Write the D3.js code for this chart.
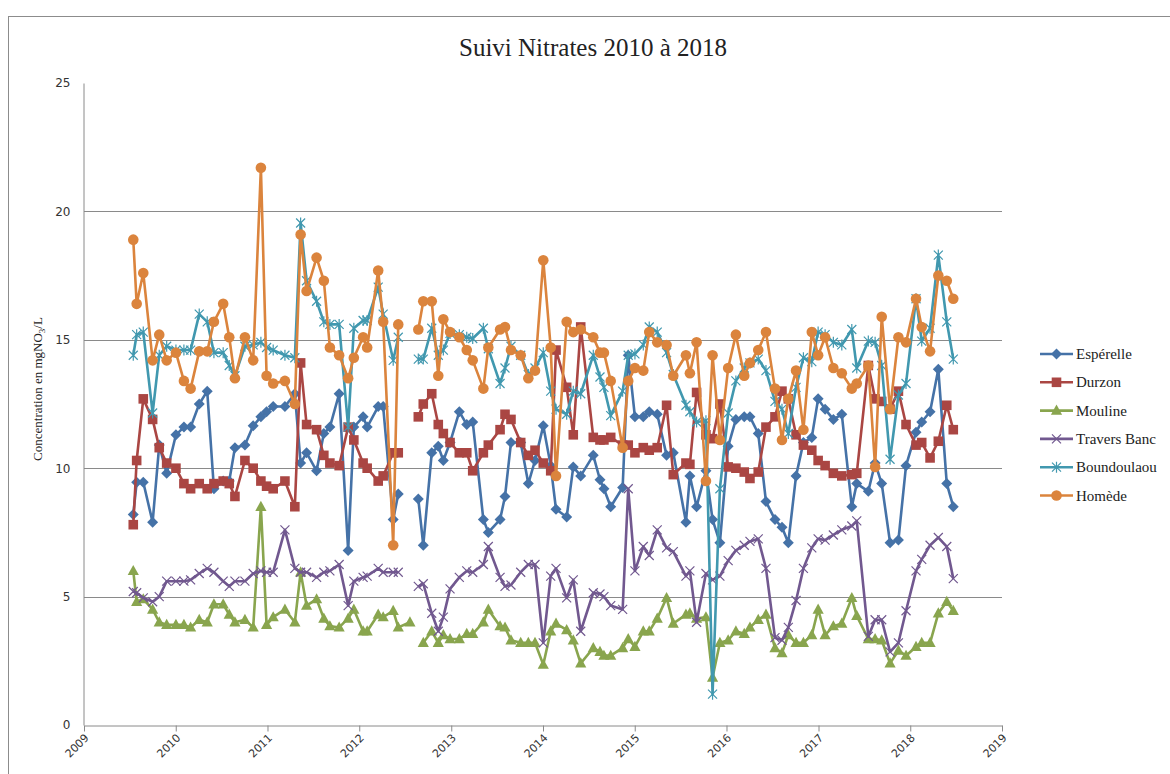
<!DOCTYPE html>
<html>
<head>
<meta charset="utf-8">
<script src="https://cdn.jsdelivr.net/npm/d3@7"></script>
<style>
  body { margin: 0; background: #fff; }
  svg { display: block; }
</style>
</head>
<body>
<svg id="chart" width="1170" height="774"></svg>
<script>
/* Suivi Nitrates 2010 a 2018 - six stations, one sample date list shared by all.
   null = no value (Excel leaves a gap in the line there). */
var sampleYears = [
  2009.537, 2009.574, 2009.646, 2009.748, 2009.820, 2009.901, 2010.002, 2010.089, 2010.162, 2010.256,
  2010.343, 2010.416, 2010.517, 2010.583, 2010.645, 2010.754, 2010.844, 2010.928, 2010.990, 2011.062,
  2011.190, 2011.298, 2011.361, 2011.426, 2011.535, 2011.614, 2011.680, 2011.781, 2011.879, 2011.941,
  2012.042, 2012.086, 2012.206, 2012.260, 2012.369, 2012.424, 2012.551, 2012.642, 2012.696, 2012.788,
  2012.859, 2012.914, 2012.987, 2013.088, 2013.169, 2013.234, 2013.350, 2013.404, 2013.532, 2013.586,
  2013.651, 2013.757, 2013.840, 2013.913, 2014.003, 2014.084, 2014.142, 2014.258, 2014.330, 2014.411,
  2014.548, 2014.621, 2014.664, 2014.738, 2014.868, 2014.929, 2015.002, 2015.093, 2015.158, 2015.245,
  2015.347, 2015.420, 2015.558, 2015.601, 2015.674, 2015.776, 2015.848, 2015.928, 2016.018, 2016.102,
  2016.193, 2016.255, 2016.345, 2016.429, 2016.527, 2016.603, 2016.672, 2016.756, 2016.836, 2016.927,
  2016.996, 2017.072, 2017.162, 2017.254, 2017.363, 2017.417, 2017.543, 2017.617, 2017.689, 2017.780,
  2017.871, 2017.954, 2018.063, 2018.125, 2018.216, 2018.306, 2018.398, 2018.469
];

var esperelle = [
  8.2, 9.45, 9.45, 7.9, 10.9, 9.8, 11.3, 11.6, 11.6, 12.5,
  13.0, 9.2, 9.5, 9.5, 10.8, 10.9, 11.65, 12.0, 12.2, 12.4,
  12.4, 12.9, 10.2, 10.6, 9.9, 11.35, 11.6, 12.9, 6.8, 11.6,
  12.0, 11.6, 12.4, 12.4, 8.0, 9.0, null, 8.8, 7.0, 10.6,
  10.85, 10.3, 11.0, 12.2, 11.7, 11.8, 8.0, 7.5, 8.0, 8.9,
  11.0, 11.0, 9.4, 10.3, 11.65, 10.1, 8.4, 8.1, 10.05, 9.7,
  10.5, 9.55, 9.2, 8.5, 9.25, 14.4, 12.0, 12.0, 12.2, 12.1,
  10.5, 10.6, 7.9, 9.7, 8.5, 9.9, 8.0, 7.1, 10.85, 11.9,
  12.0, 12.0, 11.35, 8.7, 8.0, 7.7, 7.1, 9.7, 11.0, 11.2,
  12.7, 12.3, 11.9, 12.1, 8.5, 9.4, 9.1, 10.2, 9.4, 7.1,
  7.2, 10.1, 11.4, 11.8, 12.2, 13.85, 9.4, 8.5
];

var durzon = [
  7.8, 10.3, 12.7, 11.9, 10.8, 10.2, 10.0, 9.4, 9.2, 9.4,
  9.2, 9.4, 9.5, 9.4, 8.9, 10.3, 10.0, 9.5, 9.3, 9.2,
  9.5, 8.5, 14.1, 11.7, 11.5, 10.5, 10.2, 10.1, 11.6, 11.1,
  10.2, 10.0, 9.5, 9.7, 10.6, 10.6, null, 12.0, 12.5, 12.9,
  11.7, 11.35, 11.0, 10.6, 10.6, 9.9, 10.6, 10.9, 11.5, 12.1,
  11.9, 11.0, 10.5, 10.7, 10.2, 9.9, 14.6, 13.15, 11.3, 15.5,
  11.2, 11.1, 11.1, 11.2, 10.9, 10.9, 10.6, 10.8, 10.7, 10.8,
  12.45, 9.75, 10.2, 10.15, 12.95, 11.3, 11.15, 12.5, 10.05, 10.0,
  9.85, 9.6, 9.85, 11.6, 12.0, 13.0, 12.7, 11.3, 10.9, 10.7,
  10.3, 10.1, 9.8, 9.7, 9.75, 9.8, 14.0, 12.7, 12.6, 12.3,
  13.0, 11.7, 10.9, 11.0, 10.4, 11.05, 12.45, 11.5
];

var mouline = [
  6.0, 4.8, 4.9, 4.5, 4.0, 3.9, 3.9, 3.9, 3.8, 4.1,
  4.0, 4.7, 4.7, 4.3, 4.0, 4.1, 3.8, 8.5, 3.9, 4.2,
  4.5, 4.0, 5.95, 4.65, 4.9, 4.15, 3.85, 3.8, 4.15, 4.5,
  3.65, 3.65, 4.3, 4.2, 4.45, 3.8, 4.0, null, 3.2, 3.65,
  3.2, 3.5, 3.35, 3.35, 3.55, 3.55, 4.0, 4.5, 3.85, 3.8,
  3.3, 3.2, 3.2, 3.2, 2.35, 3.65, 3.95, 3.7, 3.3, 2.4,
  3.0, 2.85, 2.7, 2.7, 3.0, 3.35, 3.05, 3.65, 3.65, 4.15,
  4.95, 3.95, 4.3, 4.35, 4.15, 4.2, 1.85, 3.2, 3.3, 3.65,
  3.55, 3.8, 4.1, 4.3, 3.0, 2.8, 3.5, 3.2, 3.2, 3.5,
  4.5, 3.5, 3.85, 3.95, 4.95, 4.25, 3.35, 3.35, 3.3, 2.4,
  2.9, 2.7, 3.05, 3.2, 3.2, 4.35, 4.8, 4.45
];

var traversBanc = [
  5.2, 5.15, 4.95, 4.8, 5.0, 5.6, 5.6, 5.6, 5.65, 5.9,
  6.1, 5.95, 5.6, 5.4, 5.6, 5.6, 5.9, 6.0, 5.95, 5.95,
  7.6, 6.1, 5.95, 5.95, 5.75, 5.95, 6.0, 6.25, 4.65, 5.6,
  5.75, 5.8, 6.1, 5.95, 5.95, 5.95, null, 5.4, 5.5, 4.35,
  3.65, 4.2, 5.3, 5.75, 6.0, 5.95, 6.25, 6.95, 5.75, 5.4,
  5.45, 5.95, 6.25, 6.25, 3.2, 5.8, 6.1, 4.95, 5.65, 3.65,
  5.15, 5.1, 5.0, 4.65, 4.5, 9.2, 6.0, 6.95, 6.6, 7.6,
  6.9, 6.75, 5.8, 6.0, 4.0, 5.9, 5.65, 5.8, 6.4, 6.8,
  7.0, 7.15, 7.25, 6.1, 3.4, 3.3, 3.8, 4.85, 6.1, 6.9,
  7.25, 7.2, 7.4, 7.6, 7.75, 7.95, 3.45, 4.1, 4.1, 2.85,
  3.2, 4.45, 6.0, 6.45, 7.0, 7.3, 6.95, 5.7
];

var boundoulaou = [
  14.4, 15.2, 15.3, 12.15, 14.4, 14.75, 14.6, 14.6, 14.6, 16.0,
  15.7, 14.5, 14.5, 14.0, 13.6, 14.75, 14.8, 14.9, 14.7, 14.6,
  14.4, 14.3, 19.55, 17.3, 16.5, 15.7, 15.6, 15.6, 11.6, 15.45,
  15.75, 15.75, 17.05, 16.0, 14.2, 15.1, null, 14.25, 14.25, 15.45,
  14.4, 14.6, 15.25, 15.2, 15.1, 15.05, 15.45, 14.65, 13.3, 13.9,
  14.75, 14.4, 13.65, 13.9, 14.5, 13.0, 12.3, 12.1, 13.0, 12.9,
  14.4, 13.55, 13.15, 12.05, 13.0, 14.4, 14.45, 14.8, 15.5, 15.3,
  14.5, 13.65, 12.45, 12.2, 11.8, 11.85, 1.2, 9.2, 12.15, 13.4,
  13.9, 14.1, 14.25, 13.8, 12.6, 12.3, 11.35, 13.15, 14.3, 14.15,
  15.3, 15.2, 14.9, 14.8, 15.4, 13.9, 14.95, 14.9, 14.0, 10.35,
  12.85, 13.3, 16.6, 14.95, 15.45, 18.3, 15.7, 14.25
];

var homede = [
  18.9, 16.4, 17.6, 14.2, 15.2, 14.2, 14.5, 13.4, 13.1, 14.55,
  14.55, 15.7, 16.4, 15.1, 13.5, 15.1, 14.2, 21.7, 13.6, 13.3,
  13.4, 12.5, 19.1, 16.9, 18.2, 17.3, 14.7, 14.4, 13.5, 14.3,
  15.1, 14.7, 17.7, 15.7, 7.0, 15.6, null, 15.4, 16.5, 16.5,
  13.6, 15.8, 15.3, 15.1, 14.6, 14.2, 13.1, 14.7, 15.4, 15.5,
  14.6, 14.4, 13.5, 13.8, 18.1, 14.7, 9.7, 15.7, 15.3, 15.4,
  15.1, 14.5, 14.5, 13.4, 10.8, 13.4, 13.9, 13.8, 15.3, 14.9,
  14.8, 13.6, 14.4, 13.7, 14.9, 9.5, 14.4, 11.1, 13.9, 15.2,
  13.6, 14.1, 14.6, 15.3, 13.1, 11.1, 12.7, 13.8, 11.5, 15.3,
  14.4, 15.1, 13.9, 13.7, 13.1, 13.3, 14.0, 10.05, 15.9, 12.3,
  15.1, 14.9, 16.6, 15.5, 14.55, 17.5, 17.3, 16.6
];

var seriesNames = ['Esp\u00e9relle', 'Durzon', 'Mouline', 'Travers Banc', 'Boundoulaou', 'Hom\u00e8de'];
var seriesValues = [esperelle, durzon, mouline, traversBanc, boundoulaou, homede];
var seriesColors = ['#4572A7', '#AA4643', '#89A54E', '#71588F', '#4198AF', '#DB843D'];
var seriesMarkers = ['diamond', 'square', 'triangle', 'cross', 'star', 'circle'];
var yTicks = [0, 5, 10, 15, 20, 25];

(function () {
  'use strict';
  var svg = d3.select('#chart');
  var margin = { left: 84, right: 1002, top: 83, bottom: 725 };

  function toDate(t) {
    var yr = Math.floor(t);
    var a = Date.UTC(yr, 0, 1), b = Date.UTC(yr + 1, 0, 1);
    return new Date(a + (t - yr) * (b - a));
  }

  var x = d3.scaleUtc()
    .domain([new Date(Date.UTC(2009, 0, 1)), new Date(Date.UTC(2019, 0, 1))])
    .range([margin.left, margin.right]);
  var y = d3.scaleLinear().domain([0, 25]).range([margin.bottom, margin.top]);

  // chart frame
  svg.append('rect')
    .attr('x', 8.5).attr('y', 16.5).attr('width', 1200).attr('height', 800)
    .attr('fill', 'none').attr('stroke', '#8c8c8c').attr('stroke-width', 1);

  // title
  svg.append('text')
    .attr('x', 593).attr('y', 56)
    .attr('text-anchor', 'middle')
    .attr('font-family', '"Liberation Serif", "DejaVu Serif", serif')
    .attr('font-size', 25).attr('fill', '#222')
    .text('Suivi Nitrates 2010 \u00e0 2018');

  // horizontal gridlines
  svg.append('g').selectAll('line')
    .data(yTicks.filter(function (d) { return d > 0 && d < 25; }))
    .join('line')
    .attr('x1', margin.left).attr('x2', margin.right)
    .attr('y1', function (d) { return Math.round(y(d)) + 0.5; })
    .attr('y2', function (d) { return Math.round(y(d)) + 0.5; })
    .attr('stroke', '#8a8a8a').attr('stroke-width', 1);

  // y axis
  var yAxis = svg.append('g').attr('transform', 'translate(' + (margin.left - 0.5) + ',0)')
    .call(d3.axisLeft(y).tickValues(yTicks).tickSize(0).tickPadding(13));
  yAxis.select('.domain').attr('stroke', '#8a8a8a');
  yAxis.selectAll('text')
    .attr('font-family', '"DejaVu Sans", sans-serif').attr('font-size', 12).attr('fill', '#333');

  // x axis
  var xAxis = svg.append('g').attr('transform', 'translate(0,' + (Math.round(y(0)) + 0.5) + ')')
    .call(d3.axisBottom(x).ticks(d3.utcYear.every(1)).tickFormat(d3.utcFormat('%Y')).tickSize(6).tickSizeOuter(0));
  xAxis.select('.domain').attr('stroke', '#8a8a8a');
  xAxis.selectAll('.tick line').attr('stroke', '#8a8a8a');
  xAxis.selectAll('text')
    .attr('font-family', '"DejaVu Sans", sans-serif').attr('font-size', 11).attr('fill', '#333')
    .attr('text-anchor', 'end')
    .attr('dy', 0).attr('y', 0)
    .attr('transform', 'translate(5,13) rotate(-45)');

  // y axis title
  var yt = svg.append('text')
    .attr('transform', 'translate(42,' + ((margin.top + margin.bottom) / 2 - 15) + ') rotate(-90)')
    .attr('text-anchor', 'middle')
    .attr('font-family', '"Liberation Serif", "DejaVu Serif", serif')
    .attr('font-size', 13).attr('fill', '#222');
  yt.append('tspan').text('Concentration en mgNO');
  yt.append('tspan').attr('font-size', 9).attr('dy', 3).text('3');
  yt.append('tspan').attr('dy', -3).text('/L');

  function markerPath(type) {
    switch (type) {
      case 'diamond': return 'M0,-5.5L5.5,0L0,5.5L-5.5,0Z';
      case 'square': return 'M-4.8,-4.8H4.8V4.8H-4.8Z';
      case 'triangle': return 'M0,-6L5.6,4.2H-5.6Z';
      case 'cross': return 'M-4.5,-4.5L4.5,4.5M-4.5,4.5L4.5,-4.5';
      case 'star': return 'M-4.5,-4.5L4.5,4.5M-4.5,4.5L4.5,-4.5M0,-5.5V5.5';
      default: return null;
    }
  }

  function drawMarker(g, type, color, cx, cy) {
    if (type === 'circle') {
      g.append('circle').attr('cx', cx).attr('cy', cy).attr('r', 5.3).attr('fill', color);
    } else if (type === 'cross' || type === 'star') {
      g.append('path').attr('d', markerPath(type))
        .attr('transform', 'translate(' + cx + ',' + cy + ')')
        .attr('fill', 'none').attr('stroke', color).attr('stroke-width', 1.2);
    } else {
      g.append('path').attr('d', markerPath(type))
        .attr('transform', 'translate(' + cx + ',' + cy + ')')
        .attr('fill', color);
    }
  }

  var line = d3.line()
    .defined(function (d) { return d.v != null; })
    .x(function (d) { return x(d.date); })
    .y(function (d) { return y(d.v); });

  var plot = svg.append('g');
  seriesValues.forEach(function (vals, k) {
    var pts = sampleYears.map(function (t, i) { return { date: toDate(t), v: vals[i] }; });
    var g = plot.append('g');
    g.append('path').datum(pts).attr('d', line)
      .attr('fill', 'none').attr('stroke', seriesColors[k])
      .attr('stroke-width', 2.6).attr('stroke-linejoin', 'round');
    pts.forEach(function (p) {
      if (p.v == null) return;
      drawMarker(g, seriesMarkers[k], seriesColors[k], x(p.date), y(p.v));
    });
  });

  // legend
  var lg = svg.append('g');
  seriesNames.forEach(function (name, k) {
    var ly = 354 + k * 28.3;
    lg.append('line').attr('x1', 1040).attr('x2', 1073).attr('y1', ly).attr('y2', ly)
      .attr('stroke', seriesColors[k]).attr('stroke-width', 2.6);
    drawMarker(lg, seriesMarkers[k], seriesColors[k], 1056.5, ly);
    lg.append('text').attr('x', 1076).attr('y', ly + 5)
      .attr('font-family', '"Liberation Serif", "DejaVu Serif", serif')
      .attr('font-size', 15).attr('fill', '#222')
      .text(name);
  });
})();
</script>
</body>
</html>
